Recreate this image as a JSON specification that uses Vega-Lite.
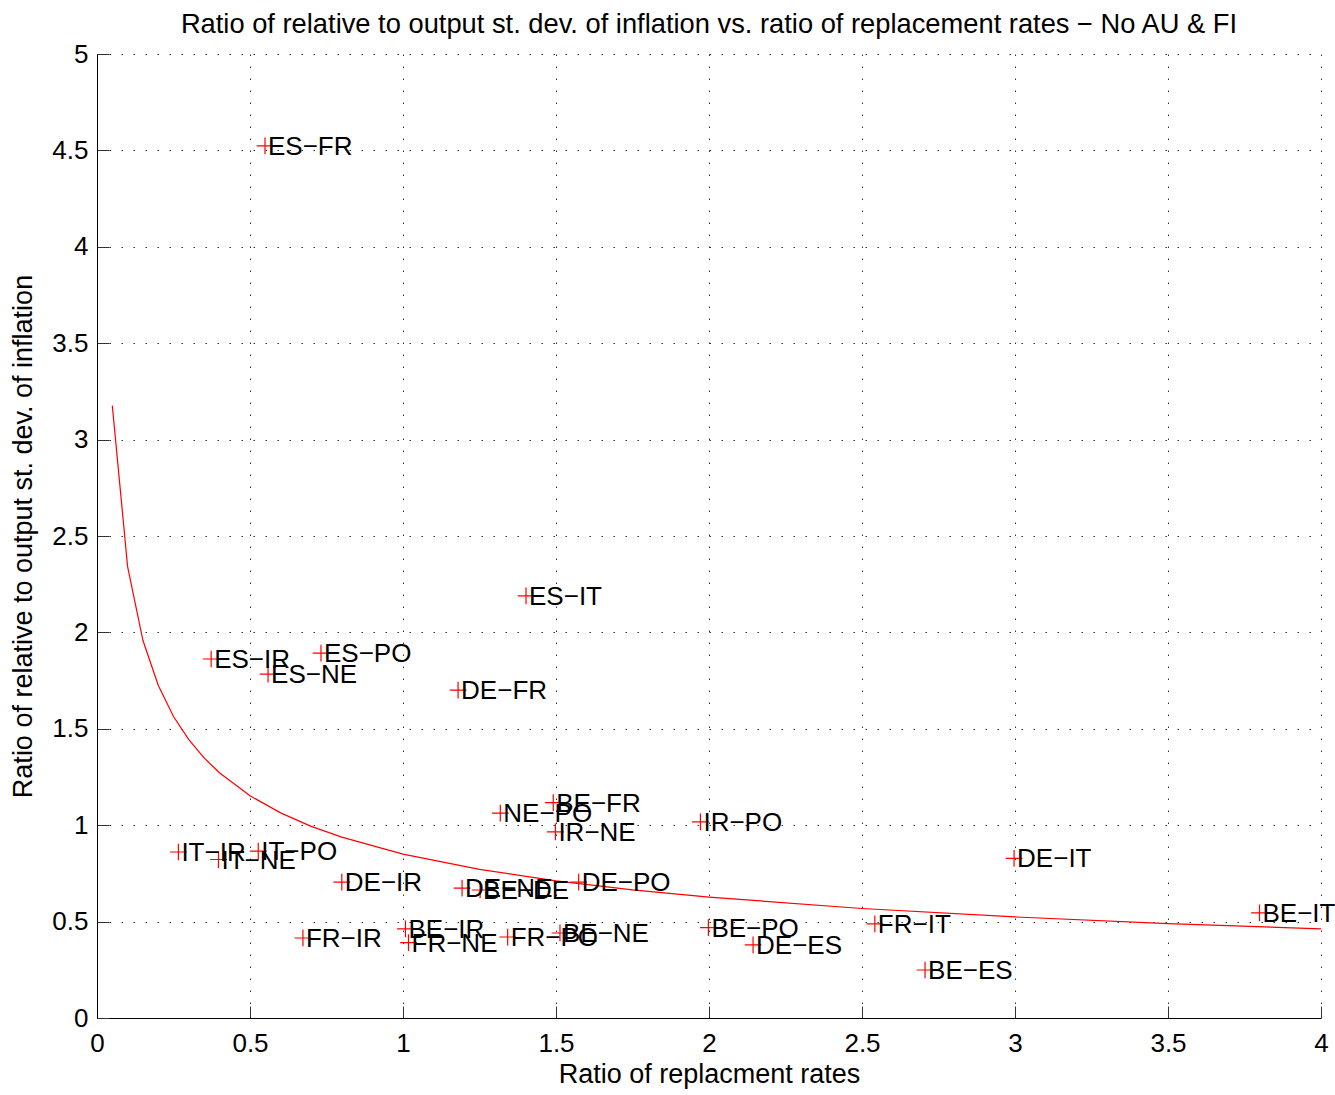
{
  "$schema": "https://vega.github.io/schema/vega-lite/v6.json",
  "width": 1224,
  "height": 964,
  "autosize": {"type": "none"},
  "padding": {"left": 97, "top": 54, "right": 14, "bottom": 77},
  "background": "white",
  "config": {
    "font": "Liberation Sans",
    "view": {"stroke": null},
    "axis": {
      "domainColor": "black",
      "domainWidth": 1,
      "tickColor": "#333",
      "tickSize": -12,
      "tickWidth": 1,
      "labelFontSize": 26,
      "labelColor": "black",
      "labelFlush": false,
      "labelOverlap": false,
      "titleFontSize": 27,
      "titleFontWeight": "normal",
      "titleColor": "black",
      "grid": true,
      "gridColor": "#333",
      "gridDash": [1.5, 10.5],
      "gridWidth": 1,
      "gridOpacity": 1
    }
  },
  "title": {
    "text": "Ratio of relative to output st. dev. of inflation vs. ratio of replacement rates − No AU & FI",
    "fontSize": 27.3,
    "fontWeight": "normal",
    "color": "black",
    "offset": 3,
    "anchor": "middle"
  },
  "datasets": {
    "pts": [
      {"x": 0.549, "y": 4.523, "label": "ES−FR"},
      {"x": 1.402, "y": 2.189, "label": "ES−IT"},
      {"x": 0.373, "y": 1.862, "label": "ES−IR"},
      {"x": 0.732, "y": 1.893, "label": "ES−PO"},
      {"x": 0.559, "y": 1.784, "label": "ES−NE"},
      {"x": 1.180, "y": 1.701, "label": "DE−FR"},
      {"x": 1.318, "y": 1.063, "label": "NE−PO"},
      {"x": 1.491, "y": 1.117, "label": "BE−FR"},
      {"x": 1.498, "y": 0.965, "label": "IR−NE"},
      {"x": 1.972, "y": 1.017, "label": "IR−PO"},
      {"x": 2.997, "y": 0.828, "label": "DE−IT"},
      {"x": 3.799, "y": 0.545, "label": "BE−IT"},
      {"x": 0.266, "y": 0.861, "label": "IT−IR"},
      {"x": 0.527, "y": 0.866, "label": "IT−PO"},
      {"x": 0.397, "y": 0.822, "label": "IT−NE"},
      {"x": 0.800, "y": 0.705, "label": "DE−IR"},
      {"x": 1.193, "y": 0.674, "label": "DE−NE"},
      {"x": 1.252, "y": 0.664, "label": "BE−DE"},
      {"x": 1.574, "y": 0.705, "label": "DE−PO"},
      {"x": 0.673, "y": 0.415, "label": "FR−IR"},
      {"x": 1.008, "y": 0.462, "label": "BE−IR"},
      {"x": 1.018, "y": 0.391, "label": "FR−NE"},
      {"x": 1.342, "y": 0.420, "label": "FR−PO"},
      {"x": 1.513, "y": 0.441, "label": "BE−NE"},
      {"x": 1.998, "y": 0.469, "label": "BE−PO"},
      {"x": 2.144, "y": 0.379, "label": "DE−ES"},
      {"x": 2.542, "y": 0.488, "label": "FR−IT"},
      {"x": 2.706, "y": 0.249, "label": "BE−ES"}
    ],
    "fit": [
      {"x": 0.05, "y": 3.176},
      {"x": 0.10, "y": 2.341},
      {"x": 0.15, "y": 1.959},
      {"x": 0.20, "y": 1.726},
      {"x": 0.25, "y": 1.564},
      {"x": 0.30, "y": 1.444},
      {"x": 0.35, "y": 1.349},
      {"x": 0.40, "y": 1.272},
      {"x": 0.50, "y": 1.153},
      {"x": 0.60, "y": 1.064},
      {"x": 0.70, "y": 0.994},
      {"x": 0.80, "y": 0.938},
      {"x": 1.00, "y": 0.850},
      {"x": 1.25, "y": 0.771},
      {"x": 1.50, "y": 0.711},
      {"x": 1.75, "y": 0.665},
      {"x": 2.00, "y": 0.627},
      {"x": 2.50, "y": 0.568},
      {"x": 3.00, "y": 0.524},
      {"x": 3.50, "y": 0.490},
      {"x": 4.00, "y": 0.462}
    ]
  },
  "layer": [
    {
      "data": {"name": "fit"},
      "mark": {"type": "line", "color": "#ff0000", "strokeWidth": 1.2, "clip": true},
      "encoding": {
        "x": {
          "field": "x", "type": "quantitative",
          "scale": {"domain": [0, 4], "nice": false, "zero": false},
          "axis": {"values": [0, 0.5, 1, 1.5, 2, 2.5, 3, 3.5, 4], "title": "Ratio of replacment rates", "labelPadding": 24, "titlePadding": 5, "format": "~g"}
        },
        "y": {
          "field": "y", "type": "quantitative",
          "scale": {"domain": [0, 5], "nice": false, "zero": false},
          "axis": {"values": [0, 0.5, 1, 1.5, 2, 2.5, 3, 3.5, 4, 4.5, 5], "title": "Ratio of relative to output st. dev. of inflation", "labelPadding": 21, "titlePadding": 14, "format": "~g"}
        }
      }
    },
    {
      "data": {"name": "pts"},
      "mark": {"type": "point", "shape": "M -1 0 L 1 0 M 0 -1 L 0 1", "filled": false, "stroke": "#ff0000", "strokeWidth": 1.2, "size": 280, "opacity": 1},
      "encoding": {
        "x": {"field": "x", "type": "quantitative"},
        "y": {"field": "y", "type": "quantitative"}
      }
    },
    {
      "data": {"name": "pts"},
      "mark": {"type": "text", "align": "left", "baseline": "middle", "dx": 3, "dy": 1, "fontSize": 26, "color": "black"},
      "encoding": {
        "x": {"field": "x", "type": "quantitative"},
        "y": {"field": "y", "type": "quantitative"},
        "text": {"field": "label"}
      }
    }
  ]
}
